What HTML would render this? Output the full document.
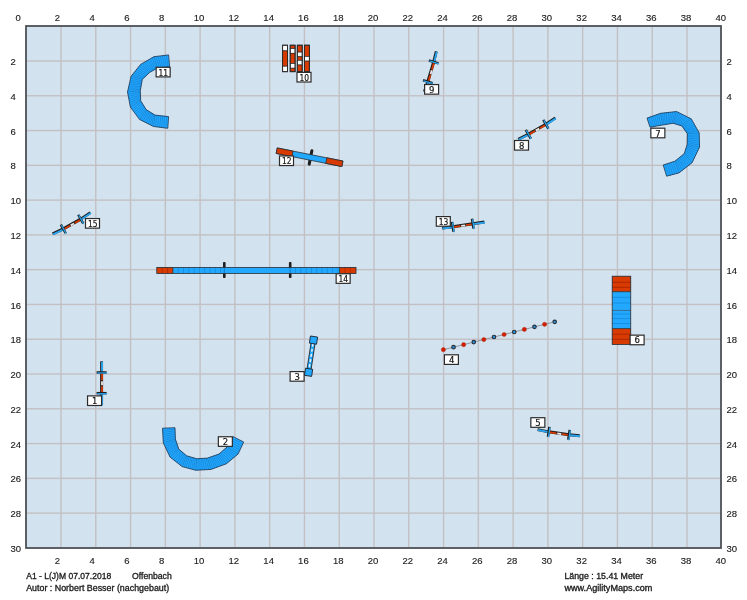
<!DOCTYPE html>
<html><head><meta charset="utf-8"><title>Agility Course A1 - L(J)M</title>
<style>
html,body{margin:0;padding:0;background:#fff;}
body{width:747px;height:600px;overflow:hidden;}
svg{display:block;}
svg text{filter:grayscale(1);}
.ax text{font-family:"Liberation Sans",Arial,sans-serif;font-size:8.4px;fill:#1a1a1a;stroke:#1a1a1a;stroke-width:0.12px;}
text.n{font-family:"DejaVu Sans",Verdana,sans-serif;font-size:8.5px;fill:#111;stroke:#111;stroke-width:0.18px;}
.ft{font-family:"Liberation Sans",Arial,sans-serif;font-size:8.2px;fill:#1a1a1a;stroke:#1a1a1a;stroke-width:0.3px;}
</style></head>
<body>
<svg width="747" height="600" viewBox="0 0 747 600">
<rect width="747" height="600" fill="#ffffff"/>
<rect x="26" y="26" width="695" height="522" fill="#d3e2ef"/>
<rect x="60.3" y="27" width="1.4" height="520" fill="#c2c0c3"/>
<rect x="95.08" y="27" width="1.4" height="520" fill="#c2c0c3"/>
<rect x="129.85" y="27" width="1.4" height="520" fill="#c2c0c3"/>
<rect x="164.63" y="27" width="1.4" height="520" fill="#c2c0c3"/>
<rect x="199.41" y="27" width="1.4" height="520" fill="#c2c0c3"/>
<rect x="234.19" y="27" width="1.4" height="520" fill="#c2c0c3"/>
<rect x="268.97" y="27" width="1.4" height="520" fill="#c2c0c3"/>
<rect x="303.74" y="27" width="1.4" height="520" fill="#c2c0c3"/>
<rect x="338.52" y="27" width="1.4" height="520" fill="#c2c0c3"/>
<rect x="373.3" y="27" width="1.4" height="520" fill="#c2c0c3"/>
<rect x="408.08" y="27" width="1.4" height="520" fill="#c2c0c3"/>
<rect x="442.86" y="27" width="1.4" height="520" fill="#c2c0c3"/>
<rect x="477.63" y="27" width="1.4" height="520" fill="#c2c0c3"/>
<rect x="512.41" y="27" width="1.4" height="520" fill="#c2c0c3"/>
<rect x="547.19" y="27" width="1.4" height="520" fill="#c2c0c3"/>
<rect x="581.97" y="27" width="1.4" height="520" fill="#c2c0c3"/>
<rect x="616.75" y="27" width="1.4" height="520" fill="#c2c0c3"/>
<rect x="651.52" y="27" width="1.4" height="520" fill="#c2c0c3"/>
<rect x="686.3" y="27" width="1.4" height="520" fill="#c2c0c3"/>
<rect x="27" y="60.3" width="693" height="1.4" fill="#c2c0c3"/>
<rect x="27" y="95.08" width="693" height="1.4" fill="#c2c0c3"/>
<rect x="27" y="129.85" width="693" height="1.4" fill="#c2c0c3"/>
<rect x="27" y="164.63" width="693" height="1.4" fill="#c2c0c3"/>
<rect x="27" y="199.41" width="693" height="1.4" fill="#c2c0c3"/>
<rect x="27" y="234.19" width="693" height="1.4" fill="#c2c0c3"/>
<rect x="27" y="268.97" width="693" height="1.4" fill="#c2c0c3"/>
<rect x="27" y="303.74" width="693" height="1.4" fill="#c2c0c3"/>
<rect x="27" y="338.52" width="693" height="1.4" fill="#c2c0c3"/>
<rect x="27" y="373.3" width="693" height="1.4" fill="#c2c0c3"/>
<rect x="27" y="408.08" width="693" height="1.4" fill="#c2c0c3"/>
<rect x="27" y="442.86" width="693" height="1.4" fill="#c2c0c3"/>
<rect x="27" y="477.63" width="693" height="1.4" fill="#c2c0c3"/>
<rect x="27" y="512.41" width="693" height="1.4" fill="#c2c0c3"/>
<rect x="26" y="26" width="695" height="522" fill="none" stroke="#4d5156" stroke-width="1.8"/>
<g class="ax">
<text x="15.4" y="20.8" textLength="5.3" lengthAdjust="spacingAndGlyphs">0</text>
<text x="54.7" y="20.8" textLength="5.3" lengthAdjust="spacingAndGlyphs">2</text>
<text x="54.7" y="563.7" textLength="5.3" lengthAdjust="spacingAndGlyphs">2</text>
<text x="89.48" y="20.8" textLength="5.3" lengthAdjust="spacingAndGlyphs">4</text>
<text x="89.48" y="563.7" textLength="5.3" lengthAdjust="spacingAndGlyphs">4</text>
<text x="124.25" y="20.8" textLength="5.3" lengthAdjust="spacingAndGlyphs">6</text>
<text x="124.25" y="563.7" textLength="5.3" lengthAdjust="spacingAndGlyphs">6</text>
<text x="159.03" y="20.8" textLength="5.3" lengthAdjust="spacingAndGlyphs">8</text>
<text x="159.03" y="563.7" textLength="5.3" lengthAdjust="spacingAndGlyphs">8</text>
<text x="193.81" y="20.8" textLength="10.6" lengthAdjust="spacingAndGlyphs">10</text>
<text x="193.81" y="563.7" textLength="10.6" lengthAdjust="spacingAndGlyphs">10</text>
<text x="228.59" y="20.8" textLength="10.6" lengthAdjust="spacingAndGlyphs">12</text>
<text x="228.59" y="563.7" textLength="10.6" lengthAdjust="spacingAndGlyphs">12</text>
<text x="263.37" y="20.8" textLength="10.6" lengthAdjust="spacingAndGlyphs">14</text>
<text x="263.37" y="563.7" textLength="10.6" lengthAdjust="spacingAndGlyphs">14</text>
<text x="298.14" y="20.8" textLength="10.6" lengthAdjust="spacingAndGlyphs">16</text>
<text x="298.14" y="563.7" textLength="10.6" lengthAdjust="spacingAndGlyphs">16</text>
<text x="332.92" y="20.8" textLength="10.6" lengthAdjust="spacingAndGlyphs">18</text>
<text x="332.92" y="563.7" textLength="10.6" lengthAdjust="spacingAndGlyphs">18</text>
<text x="367.7" y="20.8" textLength="10.6" lengthAdjust="spacingAndGlyphs">20</text>
<text x="367.7" y="563.7" textLength="10.6" lengthAdjust="spacingAndGlyphs">20</text>
<text x="402.48" y="20.8" textLength="10.6" lengthAdjust="spacingAndGlyphs">22</text>
<text x="402.48" y="563.7" textLength="10.6" lengthAdjust="spacingAndGlyphs">22</text>
<text x="437.26" y="20.8" textLength="10.6" lengthAdjust="spacingAndGlyphs">24</text>
<text x="437.26" y="563.7" textLength="10.6" lengthAdjust="spacingAndGlyphs">24</text>
<text x="472.03" y="20.8" textLength="10.6" lengthAdjust="spacingAndGlyphs">26</text>
<text x="472.03" y="563.7" textLength="10.6" lengthAdjust="spacingAndGlyphs">26</text>
<text x="506.81" y="20.8" textLength="10.6" lengthAdjust="spacingAndGlyphs">28</text>
<text x="506.81" y="563.7" textLength="10.6" lengthAdjust="spacingAndGlyphs">28</text>
<text x="541.59" y="20.8" textLength="10.6" lengthAdjust="spacingAndGlyphs">30</text>
<text x="541.59" y="563.7" textLength="10.6" lengthAdjust="spacingAndGlyphs">30</text>
<text x="576.37" y="20.8" textLength="10.6" lengthAdjust="spacingAndGlyphs">32</text>
<text x="576.37" y="563.7" textLength="10.6" lengthAdjust="spacingAndGlyphs">32</text>
<text x="611.15" y="20.8" textLength="10.6" lengthAdjust="spacingAndGlyphs">34</text>
<text x="611.15" y="563.7" textLength="10.6" lengthAdjust="spacingAndGlyphs">34</text>
<text x="645.92" y="20.8" textLength="10.6" lengthAdjust="spacingAndGlyphs">36</text>
<text x="645.92" y="563.7" textLength="10.6" lengthAdjust="spacingAndGlyphs">36</text>
<text x="680.7" y="20.8" textLength="10.6" lengthAdjust="spacingAndGlyphs">38</text>
<text x="680.7" y="563.7" textLength="10.6" lengthAdjust="spacingAndGlyphs">38</text>
<text x="715.48" y="20.8" textLength="10.6" lengthAdjust="spacingAndGlyphs">40</text>
<text x="715.48" y="563.7" textLength="10.6" lengthAdjust="spacingAndGlyphs">40</text>
<text x="10.5" y="65.1" textLength="5.3" lengthAdjust="spacingAndGlyphs">2</text>
<text x="726.4" y="65.1" textLength="5.3" lengthAdjust="spacingAndGlyphs">2</text>
<text x="10.5" y="99.88" textLength="5.3" lengthAdjust="spacingAndGlyphs">4</text>
<text x="726.4" y="99.88" textLength="5.3" lengthAdjust="spacingAndGlyphs">4</text>
<text x="10.5" y="134.65" textLength="5.3" lengthAdjust="spacingAndGlyphs">6</text>
<text x="726.4" y="134.65" textLength="5.3" lengthAdjust="spacingAndGlyphs">6</text>
<text x="10.5" y="169.43" textLength="5.3" lengthAdjust="spacingAndGlyphs">8</text>
<text x="726.4" y="169.43" textLength="5.3" lengthAdjust="spacingAndGlyphs">8</text>
<text x="10.5" y="204.21" textLength="10.6" lengthAdjust="spacingAndGlyphs">10</text>
<text x="726.4" y="204.21" textLength="10.6" lengthAdjust="spacingAndGlyphs">10</text>
<text x="10.5" y="238.99" textLength="10.6" lengthAdjust="spacingAndGlyphs">12</text>
<text x="726.4" y="238.99" textLength="10.6" lengthAdjust="spacingAndGlyphs">12</text>
<text x="10.5" y="273.77" textLength="10.6" lengthAdjust="spacingAndGlyphs">14</text>
<text x="726.4" y="273.77" textLength="10.6" lengthAdjust="spacingAndGlyphs">14</text>
<text x="10.5" y="308.54" textLength="10.6" lengthAdjust="spacingAndGlyphs">16</text>
<text x="726.4" y="308.54" textLength="10.6" lengthAdjust="spacingAndGlyphs">16</text>
<text x="10.5" y="343.32" textLength="10.6" lengthAdjust="spacingAndGlyphs">18</text>
<text x="726.4" y="343.32" textLength="10.6" lengthAdjust="spacingAndGlyphs">18</text>
<text x="10.5" y="378.1" textLength="10.6" lengthAdjust="spacingAndGlyphs">20</text>
<text x="726.4" y="378.1" textLength="10.6" lengthAdjust="spacingAndGlyphs">20</text>
<text x="10.5" y="412.88" textLength="10.6" lengthAdjust="spacingAndGlyphs">22</text>
<text x="726.4" y="412.88" textLength="10.6" lengthAdjust="spacingAndGlyphs">22</text>
<text x="10.5" y="447.66" textLength="10.6" lengthAdjust="spacingAndGlyphs">24</text>
<text x="726.4" y="447.66" textLength="10.6" lengthAdjust="spacingAndGlyphs">24</text>
<text x="10.5" y="482.43" textLength="10.6" lengthAdjust="spacingAndGlyphs">26</text>
<text x="726.4" y="482.43" textLength="10.6" lengthAdjust="spacingAndGlyphs">26</text>
<text x="10.5" y="517.21" textLength="10.6" lengthAdjust="spacingAndGlyphs">28</text>
<text x="726.4" y="517.21" textLength="10.6" lengthAdjust="spacingAndGlyphs">28</text>
<text x="10.5" y="551.99" textLength="10.6" lengthAdjust="spacingAndGlyphs">30</text>
<text x="726.4" y="551.99" textLength="10.6" lengthAdjust="spacingAndGlyphs">30</text>
</g>
<polygon points="168.6,54.9 153.9,56.7 140.6,64.4 131.1,76.3 127.5,92 130.4,107.1 139.6,119.5 153.5,126.5 167.8,128.3 168.6,116.6 155,115.1 146.2,109.6 140.7,100.8 140.3,90.8 142.3,79.4 149.7,72.4 157.7,67.9 169.6,66.8" fill="#22a8ff"/>
<line x1="166.5" y1="55.16" x2="167.9" y2="66.96" stroke="#1682d4" stroke-width="0.7"/>
<line x1="164.4" y1="55.41" x2="166.2" y2="67.11" stroke="#1682d4" stroke-width="0.7"/>
<line x1="162.3" y1="55.67" x2="164.5" y2="67.27" stroke="#1682d4" stroke-width="0.7"/>
<line x1="160.2" y1="55.93" x2="162.8" y2="67.43" stroke="#1682d4" stroke-width="0.7"/>
<line x1="158.1" y1="56.19" x2="161.1" y2="67.59" stroke="#1682d4" stroke-width="0.7"/>
<line x1="156" y1="56.44" x2="159.4" y2="67.74" stroke="#1682d4" stroke-width="0.7"/>
<line x1="152" y1="57.8" x2="156.56" y2="68.54" stroke="#1682d4" stroke-width="0.7"/>
<line x1="150.1" y1="58.9" x2="155.41" y2="69.19" stroke="#1682d4" stroke-width="0.7"/>
<line x1="148.2" y1="60" x2="154.27" y2="69.83" stroke="#1682d4" stroke-width="0.7"/>
<line x1="146.3" y1="61.1" x2="153.13" y2="70.47" stroke="#1682d4" stroke-width="0.7"/>
<line x1="144.4" y1="62.2" x2="151.99" y2="71.11" stroke="#1682d4" stroke-width="0.7"/>
<line x1="142.5" y1="63.3" x2="150.84" y2="71.76" stroke="#1682d4" stroke-width="0.7"/>
<line x1="139.24" y1="66.1" x2="148.64" y2="73.4" stroke="#1682d4" stroke-width="0.7"/>
<line x1="137.89" y1="67.8" x2="147.59" y2="74.4" stroke="#1682d4" stroke-width="0.7"/>
<line x1="136.53" y1="69.5" x2="146.53" y2="75.4" stroke="#1682d4" stroke-width="0.7"/>
<line x1="135.17" y1="71.2" x2="145.47" y2="76.4" stroke="#1682d4" stroke-width="0.7"/>
<line x1="133.81" y1="72.9" x2="144.41" y2="77.4" stroke="#1682d4" stroke-width="0.7"/>
<line x1="132.46" y1="74.6" x2="143.36" y2="78.4" stroke="#1682d4" stroke-width="0.7"/>
<line x1="130.65" y1="78.26" x2="142.05" y2="80.83" stroke="#1682d4" stroke-width="0.7"/>
<line x1="130.2" y1="80.22" x2="141.8" y2="82.25" stroke="#1682d4" stroke-width="0.7"/>
<line x1="129.75" y1="82.19" x2="141.55" y2="83.67" stroke="#1682d4" stroke-width="0.7"/>
<line x1="129.3" y1="84.15" x2="141.3" y2="85.1" stroke="#1682d4" stroke-width="0.7"/>
<line x1="128.85" y1="86.11" x2="141.05" y2="86.53" stroke="#1682d4" stroke-width="0.7"/>
<line x1="128.4" y1="88.08" x2="140.8" y2="87.95" stroke="#1682d4" stroke-width="0.7"/>
<line x1="127.95" y1="90.04" x2="140.55" y2="89.38" stroke="#1682d4" stroke-width="0.7"/>
<line x1="127.91" y1="94.16" x2="140.36" y2="92.23" stroke="#1682d4" stroke-width="0.7"/>
<line x1="128.33" y1="96.31" x2="140.41" y2="93.66" stroke="#1682d4" stroke-width="0.7"/>
<line x1="128.74" y1="98.47" x2="140.47" y2="95.09" stroke="#1682d4" stroke-width="0.7"/>
<line x1="129.16" y1="100.63" x2="140.53" y2="96.51" stroke="#1682d4" stroke-width="0.7"/>
<line x1="129.57" y1="102.79" x2="140.59" y2="97.94" stroke="#1682d4" stroke-width="0.7"/>
<line x1="129.99" y1="104.94" x2="140.64" y2="99.37" stroke="#1682d4" stroke-width="0.7"/>
<line x1="131.71" y1="108.87" x2="141.49" y2="102.06" stroke="#1682d4" stroke-width="0.7"/>
<line x1="133.03" y1="110.64" x2="142.27" y2="103.31" stroke="#1682d4" stroke-width="0.7"/>
<line x1="134.34" y1="112.41" x2="143.06" y2="104.57" stroke="#1682d4" stroke-width="0.7"/>
<line x1="135.66" y1="114.19" x2="143.84" y2="105.83" stroke="#1682d4" stroke-width="0.7"/>
<line x1="136.97" y1="115.96" x2="144.63" y2="107.09" stroke="#1682d4" stroke-width="0.7"/>
<line x1="138.29" y1="117.73" x2="145.41" y2="108.34" stroke="#1682d4" stroke-width="0.7"/>
<line x1="141.34" y1="120.38" x2="147.3" y2="110.29" stroke="#1682d4" stroke-width="0.7"/>
<line x1="143.07" y1="121.25" x2="148.4" y2="110.97" stroke="#1682d4" stroke-width="0.7"/>
<line x1="144.81" y1="122.12" x2="149.5" y2="111.66" stroke="#1682d4" stroke-width="0.7"/>
<line x1="146.55" y1="123" x2="150.6" y2="112.35" stroke="#1682d4" stroke-width="0.7"/>
<line x1="148.29" y1="123.88" x2="151.7" y2="113.04" stroke="#1682d4" stroke-width="0.7"/>
<line x1="150.03" y1="124.75" x2="152.8" y2="113.72" stroke="#1682d4" stroke-width="0.7"/>
<line x1="151.76" y1="125.62" x2="153.9" y2="114.41" stroke="#1682d4" stroke-width="0.7"/>
<line x1="155.54" y1="126.76" x2="156.94" y2="115.31" stroke="#1682d4" stroke-width="0.7"/>
<line x1="157.59" y1="127.01" x2="158.89" y2="115.53" stroke="#1682d4" stroke-width="0.7"/>
<line x1="159.63" y1="127.27" x2="160.83" y2="115.74" stroke="#1682d4" stroke-width="0.7"/>
<line x1="161.67" y1="127.53" x2="162.77" y2="115.96" stroke="#1682d4" stroke-width="0.7"/>
<line x1="163.71" y1="127.79" x2="164.71" y2="116.17" stroke="#1682d4" stroke-width="0.7"/>
<line x1="165.76" y1="128.04" x2="166.66" y2="116.39" stroke="#1682d4" stroke-width="0.7"/>
<line x1="153.9" y1="56.7" x2="157.7" y2="67.9" stroke="#1878c0" stroke-width="0.7"/>
<line x1="140.6" y1="64.4" x2="149.7" y2="72.4" stroke="#1878c0" stroke-width="0.7"/>
<line x1="131.1" y1="76.3" x2="142.3" y2="79.4" stroke="#1878c0" stroke-width="0.7"/>
<line x1="127.5" y1="92" x2="140.3" y2="90.8" stroke="#1878c0" stroke-width="0.7"/>
<line x1="130.4" y1="107.1" x2="140.7" y2="100.8" stroke="#1878c0" stroke-width="0.7"/>
<line x1="139.6" y1="119.5" x2="146.2" y2="109.6" stroke="#1878c0" stroke-width="0.7"/>
<line x1="153.5" y1="126.5" x2="155" y2="115.1" stroke="#1878c0" stroke-width="0.7"/>
<polygon points="168.6,54.9 153.9,56.7 140.6,64.4 131.1,76.3 127.5,92 130.4,107.1 139.6,119.5 153.5,126.5 167.8,128.3 168.6,116.6 155,115.1 146.2,109.6 140.7,100.8 140.3,90.8 142.3,79.4 149.7,72.4 157.7,67.9 169.6,66.8" fill="none" stroke="#1c3550" stroke-width="0.8" stroke-linejoin="round"/>
<polygon points="647,118.1 660.5,113.3 676.6,111.5 691.3,118.9 699.2,132.9 699.6,147 692.1,162.7 679,172.9 666.6,176.2 663.2,165 674.9,161.2 684.2,153.7 687.2,144.4 687.4,133.7 681.8,125.9 673.1,123.3 662.6,125 650,127.2" fill="#22a8ff"/>
<line x1="648.93" y1="117.41" x2="651.8" y2="126.89" stroke="#1682d4" stroke-width="0.7"/>
<line x1="650.86" y1="116.73" x2="653.6" y2="126.57" stroke="#1682d4" stroke-width="0.7"/>
<line x1="652.79" y1="116.04" x2="655.4" y2="126.26" stroke="#1682d4" stroke-width="0.7"/>
<line x1="654.71" y1="115.36" x2="657.2" y2="125.94" stroke="#1682d4" stroke-width="0.7"/>
<line x1="656.64" y1="114.67" x2="659" y2="125.63" stroke="#1682d4" stroke-width="0.7"/>
<line x1="658.57" y1="113.99" x2="660.8" y2="125.31" stroke="#1682d4" stroke-width="0.7"/>
<line x1="662.51" y1="113.08" x2="663.91" y2="124.79" stroke="#1682d4" stroke-width="0.7"/>
<line x1="664.52" y1="112.85" x2="665.23" y2="124.58" stroke="#1682d4" stroke-width="0.7"/>
<line x1="666.54" y1="112.62" x2="666.54" y2="124.36" stroke="#1682d4" stroke-width="0.7"/>
<line x1="668.55" y1="112.4" x2="667.85" y2="124.15" stroke="#1682d4" stroke-width="0.7"/>
<line x1="670.56" y1="112.17" x2="669.16" y2="123.94" stroke="#1682d4" stroke-width="0.7"/>
<line x1="672.58" y1="111.95" x2="670.48" y2="123.72" stroke="#1682d4" stroke-width="0.7"/>
<line x1="674.59" y1="111.72" x2="671.79" y2="123.51" stroke="#1682d4" stroke-width="0.7"/>
<line x1="678.44" y1="112.42" x2="674.19" y2="123.62" stroke="#1682d4" stroke-width="0.7"/>
<line x1="680.27" y1="113.35" x2="675.27" y2="123.95" stroke="#1682d4" stroke-width="0.7"/>
<line x1="682.11" y1="114.28" x2="676.36" y2="124.28" stroke="#1682d4" stroke-width="0.7"/>
<line x1="683.95" y1="115.2" x2="677.45" y2="124.6" stroke="#1682d4" stroke-width="0.7"/>
<line x1="685.79" y1="116.12" x2="678.54" y2="124.92" stroke="#1682d4" stroke-width="0.7"/>
<line x1="687.62" y1="117.05" x2="679.62" y2="125.25" stroke="#1682d4" stroke-width="0.7"/>
<line x1="689.46" y1="117.98" x2="680.71" y2="125.58" stroke="#1682d4" stroke-width="0.7"/>
<line x1="692.29" y1="120.65" x2="682.5" y2="126.88" stroke="#1682d4" stroke-width="0.7"/>
<line x1="693.27" y1="122.4" x2="683.2" y2="127.85" stroke="#1682d4" stroke-width="0.7"/>
<line x1="694.26" y1="124.15" x2="683.9" y2="128.82" stroke="#1682d4" stroke-width="0.7"/>
<line x1="695.25" y1="125.9" x2="684.6" y2="129.8" stroke="#1682d4" stroke-width="0.7"/>
<line x1="696.24" y1="127.65" x2="685.3" y2="130.78" stroke="#1682d4" stroke-width="0.7"/>
<line x1="697.23" y1="129.4" x2="686" y2="131.75" stroke="#1682d4" stroke-width="0.7"/>
<line x1="698.21" y1="131.15" x2="686.7" y2="132.72" stroke="#1682d4" stroke-width="0.7"/>
<line x1="699.26" y1="134.91" x2="687.37" y2="135.23" stroke="#1682d4" stroke-width="0.7"/>
<line x1="699.31" y1="136.93" x2="687.34" y2="136.76" stroke="#1682d4" stroke-width="0.7"/>
<line x1="699.37" y1="138.94" x2="687.31" y2="138.29" stroke="#1682d4" stroke-width="0.7"/>
<line x1="699.43" y1="140.96" x2="687.29" y2="139.81" stroke="#1682d4" stroke-width="0.7"/>
<line x1="699.49" y1="142.97" x2="687.26" y2="141.34" stroke="#1682d4" stroke-width="0.7"/>
<line x1="699.54" y1="144.99" x2="687.23" y2="142.87" stroke="#1682d4" stroke-width="0.7"/>
<line x1="698.66" y1="148.96" x2="686.83" y2="145.56" stroke="#1682d4" stroke-width="0.7"/>
<line x1="697.73" y1="150.93" x2="686.45" y2="146.72" stroke="#1682d4" stroke-width="0.7"/>
<line x1="696.79" y1="152.89" x2="686.08" y2="147.89" stroke="#1682d4" stroke-width="0.7"/>
<line x1="695.85" y1="154.85" x2="685.7" y2="149.05" stroke="#1682d4" stroke-width="0.7"/>
<line x1="694.91" y1="156.81" x2="685.33" y2="150.21" stroke="#1682d4" stroke-width="0.7"/>
<line x1="693.98" y1="158.77" x2="684.95" y2="151.38" stroke="#1682d4" stroke-width="0.7"/>
<line x1="693.04" y1="160.74" x2="684.58" y2="152.54" stroke="#1682d4" stroke-width="0.7"/>
<line x1="690.46" y1="163.97" x2="683.04" y2="154.64" stroke="#1682d4" stroke-width="0.7"/>
<line x1="688.83" y1="165.25" x2="681.88" y2="155.57" stroke="#1682d4" stroke-width="0.7"/>
<line x1="687.19" y1="166.53" x2="680.71" y2="156.51" stroke="#1682d4" stroke-width="0.7"/>
<line x1="685.55" y1="167.8" x2="679.55" y2="157.45" stroke="#1682d4" stroke-width="0.7"/>
<line x1="683.91" y1="169.07" x2="678.39" y2="158.39" stroke="#1682d4" stroke-width="0.7"/>
<line x1="682.27" y1="170.35" x2="677.23" y2="159.32" stroke="#1682d4" stroke-width="0.7"/>
<line x1="680.64" y1="171.62" x2="676.06" y2="160.26" stroke="#1682d4" stroke-width="0.7"/>
<line x1="676.93" y1="173.45" x2="672.95" y2="161.83" stroke="#1682d4" stroke-width="0.7"/>
<line x1="674.87" y1="174" x2="671" y2="162.47" stroke="#1682d4" stroke-width="0.7"/>
<line x1="672.8" y1="174.55" x2="669.05" y2="163.1" stroke="#1682d4" stroke-width="0.7"/>
<line x1="670.73" y1="175.1" x2="667.1" y2="163.73" stroke="#1682d4" stroke-width="0.7"/>
<line x1="668.67" y1="175.65" x2="665.15" y2="164.37" stroke="#1682d4" stroke-width="0.7"/>
<line x1="660.5" y1="113.3" x2="662.6" y2="125" stroke="#1878c0" stroke-width="0.7"/>
<line x1="676.6" y1="111.5" x2="673.1" y2="123.3" stroke="#1878c0" stroke-width="0.7"/>
<line x1="691.3" y1="118.9" x2="681.8" y2="125.9" stroke="#1878c0" stroke-width="0.7"/>
<line x1="699.2" y1="132.9" x2="687.4" y2="133.7" stroke="#1878c0" stroke-width="0.7"/>
<line x1="699.6" y1="147" x2="687.2" y2="144.4" stroke="#1878c0" stroke-width="0.7"/>
<line x1="692.1" y1="162.7" x2="684.2" y2="153.7" stroke="#1878c0" stroke-width="0.7"/>
<line x1="679" y1="172.9" x2="674.9" y2="161.2" stroke="#1878c0" stroke-width="0.7"/>
<polygon points="647,118.1 660.5,113.3 676.6,111.5 691.3,118.9 699.2,132.9 699.6,147 692.1,162.7 679,172.9 666.6,176.2 663.2,165 674.9,161.2 684.2,153.7 687.2,144.4 687.4,133.7 681.8,125.9 673.1,123.3 662.6,125 650,127.2" fill="none" stroke="#1c3550" stroke-width="0.8" stroke-linejoin="round"/>
<polygon points="162.5,428.2 163.3,442.8 170,457 182.1,466.6 195.8,470.3 211.1,469.4 226.5,463.7 238.1,454 243.7,442 233.2,436.7 227.2,446.9 219,454 207.4,458.1 196.7,458.7 186.7,455.8 178.8,449.1 175.4,439.1 175,427.7" fill="#22a8ff"/>
<line x1="162.61" y1="430.29" x2="175.06" y2="429.33" stroke="#1682d4" stroke-width="0.7"/>
<line x1="162.73" y1="432.37" x2="175.11" y2="430.96" stroke="#1682d4" stroke-width="0.7"/>
<line x1="162.84" y1="434.46" x2="175.17" y2="432.59" stroke="#1682d4" stroke-width="0.7"/>
<line x1="162.96" y1="436.54" x2="175.23" y2="434.21" stroke="#1682d4" stroke-width="0.7"/>
<line x1="163.07" y1="438.63" x2="175.29" y2="435.84" stroke="#1682d4" stroke-width="0.7"/>
<line x1="163.19" y1="440.71" x2="175.34" y2="437.47" stroke="#1682d4" stroke-width="0.7"/>
<line x1="164.14" y1="444.57" x2="175.83" y2="440.35" stroke="#1682d4" stroke-width="0.7"/>
<line x1="164.98" y1="446.35" x2="176.25" y2="441.6" stroke="#1682d4" stroke-width="0.7"/>
<line x1="165.81" y1="448.12" x2="176.68" y2="442.85" stroke="#1682d4" stroke-width="0.7"/>
<line x1="166.65" y1="449.9" x2="177.1" y2="444.1" stroke="#1682d4" stroke-width="0.7"/>
<line x1="167.49" y1="451.68" x2="177.53" y2="445.35" stroke="#1682d4" stroke-width="0.7"/>
<line x1="168.32" y1="453.45" x2="177.95" y2="446.6" stroke="#1682d4" stroke-width="0.7"/>
<line x1="169.16" y1="455.23" x2="178.38" y2="447.85" stroke="#1682d4" stroke-width="0.7"/>
<line x1="171.73" y1="458.37" x2="179.93" y2="450.06" stroke="#1682d4" stroke-width="0.7"/>
<line x1="173.46" y1="459.74" x2="181.06" y2="451.01" stroke="#1682d4" stroke-width="0.7"/>
<line x1="175.19" y1="461.11" x2="182.19" y2="451.97" stroke="#1682d4" stroke-width="0.7"/>
<line x1="176.91" y1="462.49" x2="183.31" y2="452.93" stroke="#1682d4" stroke-width="0.7"/>
<line x1="178.64" y1="463.86" x2="184.44" y2="453.89" stroke="#1682d4" stroke-width="0.7"/>
<line x1="180.37" y1="465.23" x2="185.57" y2="454.84" stroke="#1682d4" stroke-width="0.7"/>
<line x1="184.06" y1="467.13" x2="188.13" y2="456.21" stroke="#1682d4" stroke-width="0.7"/>
<line x1="186.01" y1="467.66" x2="189.56" y2="456.63" stroke="#1682d4" stroke-width="0.7"/>
<line x1="187.97" y1="468.19" x2="190.99" y2="457.04" stroke="#1682d4" stroke-width="0.7"/>
<line x1="189.93" y1="468.71" x2="192.41" y2="457.46" stroke="#1682d4" stroke-width="0.7"/>
<line x1="191.89" y1="469.24" x2="193.84" y2="457.87" stroke="#1682d4" stroke-width="0.7"/>
<line x1="193.84" y1="469.77" x2="195.27" y2="458.29" stroke="#1682d4" stroke-width="0.7"/>
<line x1="197.99" y1="470.17" x2="198.23" y2="458.61" stroke="#1682d4" stroke-width="0.7"/>
<line x1="200.17" y1="470.04" x2="199.76" y2="458.53" stroke="#1682d4" stroke-width="0.7"/>
<line x1="202.36" y1="469.91" x2="201.29" y2="458.44" stroke="#1682d4" stroke-width="0.7"/>
<line x1="204.54" y1="469.79" x2="202.81" y2="458.36" stroke="#1682d4" stroke-width="0.7"/>
<line x1="206.73" y1="469.66" x2="204.34" y2="458.27" stroke="#1682d4" stroke-width="0.7"/>
<line x1="208.91" y1="469.53" x2="205.87" y2="458.19" stroke="#1682d4" stroke-width="0.7"/>
<line x1="213.03" y1="468.69" x2="208.85" y2="457.59" stroke="#1682d4" stroke-width="0.7"/>
<line x1="214.95" y1="467.97" x2="210.3" y2="457.08" stroke="#1682d4" stroke-width="0.7"/>
<line x1="216.88" y1="467.26" x2="211.75" y2="456.56" stroke="#1682d4" stroke-width="0.7"/>
<line x1="218.8" y1="466.55" x2="213.2" y2="456.05" stroke="#1682d4" stroke-width="0.7"/>
<line x1="220.72" y1="465.84" x2="214.65" y2="455.54" stroke="#1682d4" stroke-width="0.7"/>
<line x1="222.65" y1="465.12" x2="216.1" y2="455.02" stroke="#1682d4" stroke-width="0.7"/>
<line x1="224.57" y1="464.41" x2="217.55" y2="454.51" stroke="#1682d4" stroke-width="0.7"/>
<line x1="228.16" y1="462.31" x2="220.17" y2="452.99" stroke="#1682d4" stroke-width="0.7"/>
<line x1="229.81" y1="460.93" x2="221.34" y2="451.97" stroke="#1682d4" stroke-width="0.7"/>
<line x1="231.47" y1="459.54" x2="222.51" y2="450.96" stroke="#1682d4" stroke-width="0.7"/>
<line x1="233.13" y1="458.16" x2="223.69" y2="449.94" stroke="#1682d4" stroke-width="0.7"/>
<line x1="234.79" y1="456.77" x2="224.86" y2="448.93" stroke="#1682d4" stroke-width="0.7"/>
<line x1="236.44" y1="455.39" x2="226.03" y2="447.91" stroke="#1682d4" stroke-width="0.7"/>
<line x1="239.03" y1="452" x2="228.2" y2="445.2" stroke="#1682d4" stroke-width="0.7"/>
<line x1="239.97" y1="450" x2="229.2" y2="443.5" stroke="#1682d4" stroke-width="0.7"/>
<line x1="240.9" y1="448" x2="230.2" y2="441.8" stroke="#1682d4" stroke-width="0.7"/>
<line x1="241.83" y1="446" x2="231.2" y2="440.1" stroke="#1682d4" stroke-width="0.7"/>
<line x1="242.77" y1="444" x2="232.2" y2="438.4" stroke="#1682d4" stroke-width="0.7"/>
<line x1="163.3" y1="442.8" x2="175.4" y2="439.1" stroke="#1878c0" stroke-width="0.7"/>
<line x1="170" y1="457" x2="178.8" y2="449.1" stroke="#1878c0" stroke-width="0.7"/>
<line x1="182.1" y1="466.6" x2="186.7" y2="455.8" stroke="#1878c0" stroke-width="0.7"/>
<line x1="195.8" y1="470.3" x2="196.7" y2="458.7" stroke="#1878c0" stroke-width="0.7"/>
<line x1="211.1" y1="469.4" x2="207.4" y2="458.1" stroke="#1878c0" stroke-width="0.7"/>
<line x1="226.5" y1="463.7" x2="219" y2="454" stroke="#1878c0" stroke-width="0.7"/>
<line x1="238.1" y1="454" x2="227.2" y2="446.9" stroke="#1878c0" stroke-width="0.7"/>
<polygon points="162.5,428.2 163.3,442.8 170,457 182.1,466.6 195.8,470.3 211.1,469.4 226.5,463.7 238.1,454 243.7,442 233.2,436.7 227.2,446.9 219,454 207.4,458.1 196.7,458.7 186.7,455.8 178.8,449.1 175.4,439.1 175,427.7" fill="none" stroke="#1c3550" stroke-width="0.8" stroke-linejoin="round"/>
<rect x="223" y="262" width="2.6" height="16" rx="0.8" fill="#1e1e1e"/>
<rect x="288.9" y="262" width="2.6" height="16" rx="0.8" fill="#1e1e1e"/>
<rect x="156.8" y="267.4" width="199.2" height="6" fill="#22a9ff"/>
<rect x="156.8" y="267.4" width="16.1" height="6" fill="#d83a00"/>
<rect x="339.6" y="267.4" width="16.4" height="6" fill="#d83a00"/>
<line x1="162.17" y1="267.4" x2="162.17" y2="273.4" stroke="#b02a00" stroke-width="0.8"/>
<line x1="167.54" y1="267.4" x2="167.54" y2="273.4" stroke="#b02a00" stroke-width="0.8"/>
<line x1="178.2" y1="267.4" x2="178.2" y2="273.4" stroke="#1a8ad8" stroke-width="0.8"/>
<line x1="183.5" y1="267.4" x2="183.5" y2="273.4" stroke="#1a8ad8" stroke-width="0.8"/>
<line x1="188.8" y1="267.4" x2="188.8" y2="273.4" stroke="#1a8ad8" stroke-width="0.8"/>
<line x1="194.1" y1="267.4" x2="194.1" y2="273.4" stroke="#1a8ad8" stroke-width="0.8"/>
<line x1="199.4" y1="267.4" x2="199.4" y2="273.4" stroke="#1a8ad8" stroke-width="0.8"/>
<line x1="204.7" y1="267.4" x2="204.7" y2="273.4" stroke="#1a8ad8" stroke-width="0.8"/>
<line x1="210" y1="267.4" x2="210" y2="273.4" stroke="#1a8ad8" stroke-width="0.8"/>
<line x1="215.3" y1="267.4" x2="215.3" y2="273.4" stroke="#1a8ad8" stroke-width="0.8"/>
<line x1="220.6" y1="267.4" x2="220.6" y2="273.4" stroke="#1a8ad8" stroke-width="0.8"/>
<line x1="295.5" y1="267.4" x2="295.5" y2="273.4" stroke="#1a8ad8" stroke-width="0.8"/>
<line x1="300.8" y1="267.4" x2="300.8" y2="273.4" stroke="#1a8ad8" stroke-width="0.8"/>
<line x1="306.1" y1="267.4" x2="306.1" y2="273.4" stroke="#1a8ad8" stroke-width="0.8"/>
<line x1="311.4" y1="267.4" x2="311.4" y2="273.4" stroke="#1a8ad8" stroke-width="0.8"/>
<line x1="316.7" y1="267.4" x2="316.7" y2="273.4" stroke="#1a8ad8" stroke-width="0.8"/>
<line x1="322" y1="267.4" x2="322" y2="273.4" stroke="#1a8ad8" stroke-width="0.8"/>
<line x1="327.3" y1="267.4" x2="327.3" y2="273.4" stroke="#1a8ad8" stroke-width="0.8"/>
<line x1="332.6" y1="267.4" x2="332.6" y2="273.4" stroke="#1a8ad8" stroke-width="0.8"/>
<line x1="337.9" y1="267.4" x2="337.9" y2="273.4" stroke="#1a8ad8" stroke-width="0.8"/>
<line x1="344.97" y1="267.4" x2="344.97" y2="273.4" stroke="#b02a00" stroke-width="0.8"/>
<line x1="350.34" y1="267.4" x2="350.34" y2="273.4" stroke="#b02a00" stroke-width="0.8"/>
<line x1="172.9" y1="267.4" x2="172.9" y2="273.4" stroke="#333" stroke-width="0.8"/>
<line x1="224.3" y1="267.4" x2="224.3" y2="273.4" stroke="#1a78c0" stroke-width="1"/>
<line x1="290.2" y1="267.4" x2="290.2" y2="273.4" stroke="#1a78c0" stroke-width="1"/>
<line x1="339.6" y1="267.4" x2="339.6" y2="273.4" stroke="#333" stroke-width="0.8"/>
<rect x="156.8" y="267.4" width="199.2" height="6" fill="none" stroke="#2a2f35" stroke-width="0.8"/>
<rect x="612.2" y="276.2" width="18.55" height="68.2" fill="#22a9ff"/>
<rect x="612.2" y="276.2" width="18.55" height="15.5" fill="#d83a00"/>
<rect x="612.2" y="328.6" width="18.55" height="15.8" fill="#d83a00"/>
<line x1="612.2" y1="282.4" x2="630.75" y2="282.4" stroke="#a82800" stroke-width="0.9"/>
<line x1="612.2" y1="287.3" x2="630.75" y2="287.3" stroke="#a82800" stroke-width="0.9"/>
<line x1="612.2" y1="334.2" x2="630.75" y2="334.2" stroke="#a82800" stroke-width="0.9"/>
<line x1="612.2" y1="339.3" x2="630.75" y2="339.3" stroke="#a82800" stroke-width="0.9"/>
<line x1="612.2" y1="297.3" x2="630.75" y2="297.3" stroke="#1a8ad8" stroke-width="0.9"/>
<line x1="612.2" y1="303.0" x2="630.75" y2="303.0" stroke="#1a8ad8" stroke-width="0.9"/>
<line x1="612.2" y1="314.0" x2="630.75" y2="314.0" stroke="#1a8ad8" stroke-width="0.9"/>
<line x1="612.2" y1="318.6" x2="630.75" y2="318.6" stroke="#1a8ad8" stroke-width="0.9"/>
<line x1="612.2" y1="323.5" x2="630.75" y2="323.5" stroke="#1a8ad8" stroke-width="0.9"/>
<line x1="612.2" y1="310.4" x2="630.75" y2="310.4" stroke="#3d6d90" stroke-width="1"/>
<line x1="612.2" y1="291.7" x2="630.75" y2="291.7" stroke="#333" stroke-width="0.8"/>
<line x1="612.2" y1="328.6" x2="630.75" y2="328.6" stroke="#333" stroke-width="0.8"/>
<rect x="612.2" y="276.2" width="18.55" height="68.2" fill="none" stroke="#2a2f35" stroke-width="0.8"/>
<line x1="311.88" y1="150.78" x2="309.22" y2="164.12" stroke="#1e1e1e" stroke-width="3" stroke-linecap="round"/>
<polygon points="276.15,153.45 341.85,166.55 342.95,161.05 277.25,147.95" fill="#22a9ff" stroke="#2a2f35" stroke-width="0.8"/>
<polygon points="276.15,153.45 291.92,156.59 293.02,151.1 277.25,147.95" fill="#d83a00" stroke="#2a2f35" stroke-width="0.8"/>
<polygon points="325.76,163.34 341.85,166.55 342.95,161.05 326.85,157.84" fill="#d83a00" stroke="#2a2f35" stroke-width="0.8"/>
<rect x="282.6" y="45.2" width="4.9" height="5.7" fill="#ffffff" stroke="#2a2a2a" stroke-width="0.7"/>
<rect x="282.6" y="50.9" width="4.9" height="15.3" fill="#d83a00" stroke="#2a2a2a" stroke-width="0.7"/>
<rect x="282.6" y="66.2" width="4.9" height="5.5" fill="#ffffff" stroke="#2a2a2a" stroke-width="0.7"/>
<rect x="282.6" y="45.2" width="4.9" height="26.5" fill="none" stroke="#2a2a2a" stroke-width="1"/>
<rect x="290.2" y="45.2" width="4.9" height="3.4" fill="#d83a00" stroke="#2a2a2a" stroke-width="0.7"/>
<rect x="290.2" y="48.6" width="4.9" height="4.7" fill="#ffffff" stroke="#2a2a2a" stroke-width="0.7"/>
<rect x="290.2" y="53.3" width="4.9" height="10.2" fill="#d83a00" stroke="#2a2a2a" stroke-width="0.7"/>
<rect x="290.2" y="63.5" width="4.9" height="4.7" fill="#ffffff" stroke="#2a2a2a" stroke-width="0.7"/>
<rect x="290.2" y="68.2" width="4.9" height="3.5" fill="#d83a00" stroke="#2a2a2a" stroke-width="0.7"/>
<rect x="290.2" y="45.2" width="4.9" height="26.5" fill="none" stroke="#2a2a2a" stroke-width="1"/>
<rect x="297.3" y="45.2" width="4.9" height="6.9" fill="#d83a00" stroke="#2a2a2a" stroke-width="0.7"/>
<rect x="297.3" y="52.1" width="4.9" height="4.7" fill="#ffffff" stroke="#2a2a2a" stroke-width="0.7"/>
<rect x="297.3" y="56.8" width="4.9" height="3.5" fill="#d83a00" stroke="#2a2a2a" stroke-width="0.7"/>
<rect x="297.3" y="60.3" width="4.9" height="4.7" fill="#ffffff" stroke="#2a2a2a" stroke-width="0.7"/>
<rect x="297.3" y="65.0" width="4.9" height="6.7" fill="#d83a00" stroke="#2a2a2a" stroke-width="0.7"/>
<rect x="297.3" y="45.2" width="4.9" height="26.5" fill="none" stroke="#2a2a2a" stroke-width="1"/>
<rect x="304.5" y="45.2" width="4.9" height="11.2" fill="#d83a00" stroke="#2a2a2a" stroke-width="0.7"/>
<rect x="304.5" y="56.4" width="4.9" height="4.7" fill="#ffffff" stroke="#2a2a2a" stroke-width="0.7"/>
<rect x="304.5" y="61.1" width="4.9" height="10.6" fill="#d83a00" stroke="#2a2a2a" stroke-width="0.7"/>
<rect x="304.5" y="45.2" width="4.9" height="26.5" fill="none" stroke="#2a2a2a" stroke-width="1"/>
<line x1="101.6" y1="361.3" x2="101.6" y2="372.5" stroke="#1e1e1e" stroke-width="2.9" stroke-linecap="butt"/>
<line x1="102.05" y1="361.75" x2="102.05" y2="372.95" stroke="#2aa4ee" stroke-width="1.9" stroke-linecap="butt"/>
<line x1="101.6" y1="393.2" x2="101.6" y2="405" stroke="#1e1e1e" stroke-width="2.9" stroke-linecap="butt"/>
<line x1="102.05" y1="393.65" x2="102.05" y2="405.45" stroke="#2aa4ee" stroke-width="1.9" stroke-linecap="butt"/>
<line x1="101.6" y1="372.5" x2="101.6" y2="393.2" stroke="#1e1e1e" stroke-width="3.0" stroke-linecap="butt"/>
<line x1="102" y1="372.9" x2="102" y2="380.35" stroke="#d83a00" stroke-width="1.8" stroke-linecap="butt"/>
<line x1="102" y1="381.18" x2="102" y2="385.32" stroke="#f2e6e2" stroke-width="1.8" stroke-linecap="butt"/>
<line x1="102" y1="386.15" x2="102" y2="393.6" stroke="#d83a00" stroke-width="1.8" stroke-linecap="butt"/>
<line x1="96.6" y1="372.5" x2="106.6" y2="372.5" stroke="#1e1e1e" stroke-width="2.5" stroke-linecap="butt"/>
<line x1="97.1" y1="373" x2="107.1" y2="373" stroke="#2aa4ee" stroke-width="1.3" stroke-linecap="butt"/>
<line x1="96.6" y1="393.2" x2="106.6" y2="393.2" stroke="#1e1e1e" stroke-width="2.5" stroke-linecap="butt"/>
<line x1="97.1" y1="393.7" x2="107.1" y2="393.7" stroke="#2aa4ee" stroke-width="1.3" stroke-linecap="butt"/>
<line x1="537.6" y1="429.6" x2="548.7" y2="431.8" stroke="#1e1e1e" stroke-width="2.9" stroke-linecap="butt"/>
<line x1="538.05" y1="430.05" x2="549.15" y2="432.25" stroke="#2aa4ee" stroke-width="1.9" stroke-linecap="butt"/>
<line x1="569" y1="434.8" x2="579.7" y2="435.8" stroke="#1e1e1e" stroke-width="2.9" stroke-linecap="butt"/>
<line x1="569.45" y1="435.25" x2="580.15" y2="436.25" stroke="#2aa4ee" stroke-width="1.9" stroke-linecap="butt"/>
<line x1="548.7" y1="431.8" x2="569" y2="434.8" stroke="#1e1e1e" stroke-width="3.0" stroke-linecap="butt"/>
<line x1="549.1" y1="432.2" x2="556.41" y2="433.28" stroke="#d83a00" stroke-width="1.8" stroke-linecap="butt"/>
<line x1="557.22" y1="433.4" x2="561.28" y2="434" stroke="#f2e6e2" stroke-width="1.8" stroke-linecap="butt"/>
<line x1="562.09" y1="434.12" x2="569.4" y2="435.2" stroke="#d83a00" stroke-width="1.8" stroke-linecap="butt"/>
<line x1="547.97" y1="436.75" x2="549.43" y2="426.85" stroke="#1e1e1e" stroke-width="2.5" stroke-linecap="butt"/>
<line x1="548.47" y1="437.25" x2="549.93" y2="427.35" stroke="#2aa4ee" stroke-width="1.3" stroke-linecap="butt"/>
<line x1="568.27" y1="439.75" x2="569.73" y2="429.85" stroke="#1e1e1e" stroke-width="2.5" stroke-linecap="butt"/>
<line x1="568.77" y1="440.25" x2="570.23" y2="430.35" stroke="#2aa4ee" stroke-width="1.3" stroke-linecap="butt"/>
<line x1="518.3" y1="139.2" x2="528.3" y2="134.2" stroke="#1e1e1e" stroke-width="2.9" stroke-linecap="butt"/>
<line x1="518.75" y1="139.65" x2="528.75" y2="134.65" stroke="#2aa4ee" stroke-width="1.9" stroke-linecap="butt"/>
<line x1="545.8" y1="124.2" x2="555.4" y2="117.9" stroke="#1e1e1e" stroke-width="2.9" stroke-linecap="butt"/>
<line x1="546.25" y1="124.65" x2="555.85" y2="118.35" stroke="#2aa4ee" stroke-width="1.9" stroke-linecap="butt"/>
<line x1="528.3" y1="134.2" x2="545.8" y2="124.2" stroke="#1e1e1e" stroke-width="3.0" stroke-linecap="butt"/>
<line x1="528.7" y1="134.6" x2="535" y2="131" stroke="#d83a00" stroke-width="1.8" stroke-linecap="butt"/>
<line x1="535.7" y1="130.6" x2="539.2" y2="128.6" stroke="#f2e6e2" stroke-width="1.8" stroke-linecap="butt"/>
<line x1="539.9" y1="128.2" x2="546.2" y2="124.6" stroke="#d83a00" stroke-width="1.8" stroke-linecap="butt"/>
<line x1="530.78" y1="138.54" x2="525.82" y2="129.86" stroke="#1e1e1e" stroke-width="2.5" stroke-linecap="butt"/>
<line x1="531.28" y1="139.04" x2="526.32" y2="130.36" stroke="#2aa4ee" stroke-width="1.3" stroke-linecap="butt"/>
<line x1="548.28" y1="128.54" x2="543.32" y2="119.86" stroke="#1e1e1e" stroke-width="2.5" stroke-linecap="butt"/>
<line x1="548.78" y1="129.04" x2="543.82" y2="120.36" stroke="#2aa4ee" stroke-width="1.3" stroke-linecap="butt"/>
<line x1="436.3" y1="51.4" x2="433.7" y2="61.9" stroke="#1e1e1e" stroke-width="2.9" stroke-linecap="butt"/>
<line x1="436.75" y1="51.85" x2="434.15" y2="62.35" stroke="#2aa4ee" stroke-width="1.9" stroke-linecap="butt"/>
<line x1="427.8" y1="81.7" x2="424.4" y2="91.8" stroke="#1e1e1e" stroke-width="2.9" stroke-linecap="butt"/>
<line x1="428.25" y1="82.15" x2="424.85" y2="92.25" stroke="#2aa4ee" stroke-width="1.9" stroke-linecap="butt"/>
<line x1="433.7" y1="61.9" x2="427.8" y2="81.7" stroke="#1e1e1e" stroke-width="3.0" stroke-linecap="butt"/>
<line x1="434.1" y1="62.3" x2="431.98" y2="69.43" stroke="#d83a00" stroke-width="1.8" stroke-linecap="butt"/>
<line x1="431.74" y1="70.22" x2="430.56" y2="74.18" stroke="#f2e6e2" stroke-width="1.8" stroke-linecap="butt"/>
<line x1="430.32" y1="74.97" x2="428.2" y2="82.1" stroke="#d83a00" stroke-width="1.8" stroke-linecap="butt"/>
<line x1="428.91" y1="60.47" x2="438.49" y2="63.33" stroke="#1e1e1e" stroke-width="2.5" stroke-linecap="butt"/>
<line x1="429.41" y1="60.97" x2="438.99" y2="63.83" stroke="#2aa4ee" stroke-width="1.3" stroke-linecap="butt"/>
<line x1="423.01" y1="80.27" x2="432.59" y2="83.13" stroke="#1e1e1e" stroke-width="2.5" stroke-linecap="butt"/>
<line x1="423.51" y1="80.77" x2="433.09" y2="83.63" stroke="#2aa4ee" stroke-width="1.3" stroke-linecap="butt"/>
<line x1="442.2" y1="228.1" x2="452.8" y2="226.8" stroke="#1e1e1e" stroke-width="2.9" stroke-linecap="butt"/>
<line x1="442.65" y1="228.55" x2="453.25" y2="227.25" stroke="#2aa4ee" stroke-width="1.9" stroke-linecap="butt"/>
<line x1="472.8" y1="223.7" x2="484.4" y2="222" stroke="#1e1e1e" stroke-width="2.9" stroke-linecap="butt"/>
<line x1="473.25" y1="224.15" x2="484.85" y2="222.45" stroke="#2aa4ee" stroke-width="1.9" stroke-linecap="butt"/>
<line x1="452.8" y1="226.8" x2="472.8" y2="223.7" stroke="#1e1e1e" stroke-width="3.0" stroke-linecap="butt"/>
<line x1="453.2" y1="227.2" x2="460.4" y2="226.08" stroke="#d83a00" stroke-width="1.8" stroke-linecap="butt"/>
<line x1="461.2" y1="225.96" x2="465.2" y2="225.34" stroke="#f2e6e2" stroke-width="1.8" stroke-linecap="butt"/>
<line x1="466" y1="225.22" x2="473.2" y2="224.1" stroke="#d83a00" stroke-width="1.8" stroke-linecap="butt"/>
<line x1="453.57" y1="231.74" x2="452.03" y2="221.86" stroke="#1e1e1e" stroke-width="2.5" stroke-linecap="butt"/>
<line x1="454.07" y1="232.24" x2="452.53" y2="222.36" stroke="#2aa4ee" stroke-width="1.3" stroke-linecap="butt"/>
<line x1="473.57" y1="228.64" x2="472.03" y2="218.76" stroke="#1e1e1e" stroke-width="2.5" stroke-linecap="butt"/>
<line x1="474.07" y1="229.14" x2="472.53" y2="219.26" stroke="#2aa4ee" stroke-width="1.3" stroke-linecap="butt"/>
<line x1="52.6" y1="233.9" x2="63.3" y2="228.9" stroke="#1e1e1e" stroke-width="2.9" stroke-linecap="butt"/>
<line x1="53.05" y1="234.35" x2="63.75" y2="229.35" stroke="#2aa4ee" stroke-width="1.9" stroke-linecap="butt"/>
<line x1="80.7" y1="219.1" x2="90.4" y2="212.6" stroke="#1e1e1e" stroke-width="2.9" stroke-linecap="butt"/>
<line x1="81.15" y1="219.55" x2="90.85" y2="213.05" stroke="#2aa4ee" stroke-width="1.9" stroke-linecap="butt"/>
<line x1="63.3" y1="228.9" x2="80.7" y2="219.1" stroke="#1e1e1e" stroke-width="3.0" stroke-linecap="butt"/>
<line x1="63.7" y1="229.3" x2="69.96" y2="225.77" stroke="#d83a00" stroke-width="1.8" stroke-linecap="butt"/>
<line x1="70.66" y1="225.38" x2="74.14" y2="223.42" stroke="#f2e6e2" stroke-width="1.8" stroke-linecap="butt"/>
<line x1="74.84" y1="223.03" x2="81.1" y2="219.5" stroke="#d83a00" stroke-width="1.8" stroke-linecap="butt"/>
<line x1="65.75" y1="233.26" x2="60.85" y2="224.54" stroke="#1e1e1e" stroke-width="2.5" stroke-linecap="butt"/>
<line x1="66.25" y1="233.76" x2="61.35" y2="225.04" stroke="#2aa4ee" stroke-width="1.3" stroke-linecap="butt"/>
<line x1="83.15" y1="223.46" x2="78.25" y2="214.74" stroke="#1e1e1e" stroke-width="2.5" stroke-linecap="butt"/>
<line x1="83.65" y1="223.96" x2="78.75" y2="215.24" stroke="#2aa4ee" stroke-width="1.3" stroke-linecap="butt"/>
<line x1="308.6" y1="372.3" x2="313.5" y2="340.1" stroke="#2a2f35" stroke-width="5.0" stroke-linecap="butt"/>
<line x1="308.6" y1="372.3" x2="313.5" y2="340.1" stroke="#22a9ff" stroke-width="3.2" stroke-linecap="butt"/>
<line x1="308.6" y1="372.3" x2="313.5" y2="340.1" stroke="#f0f4f8" stroke-width="1.5" stroke-dasharray="3 2.2"/>
<rect x="305" y="368.7" width="7.2" height="7.2" fill="#22a9ff" stroke="#1e2a36" stroke-width="0.9" transform="rotate(8.65 308.6 372.3)"/>
<rect x="309.9" y="336.5" width="7.2" height="7.2" fill="#22a9ff" stroke="#1e2a36" stroke-width="0.9" transform="rotate(8.65 313.5 340.1)"/>
<line x1="443.4" y1="349.7" x2="554.7" y2="321.8" stroke="#8a9098" stroke-width="0.9"/>
<circle cx="443.4" cy="349.7" r="2.1" fill="#d02000" stroke="#b01a00" stroke-width="0.4"/>
<circle cx="453.52" cy="347.16" r="1.75" fill="#2a92dc" stroke="#2a3038" stroke-width="1.15"/>
<circle cx="463.64" cy="344.63" r="2.1" fill="#d02000" stroke="#b01a00" stroke-width="0.4"/>
<circle cx="473.75" cy="342.09" r="1.75" fill="#2a92dc" stroke="#2a3038" stroke-width="1.15"/>
<circle cx="483.87" cy="339.55" r="2.1" fill="#d02000" stroke="#b01a00" stroke-width="0.4"/>
<circle cx="493.99" cy="337.02" r="1.75" fill="#2a92dc" stroke="#2a3038" stroke-width="1.15"/>
<circle cx="504.11" cy="334.48" r="2.1" fill="#d02000" stroke="#b01a00" stroke-width="0.4"/>
<circle cx="514.23" cy="331.95" r="1.75" fill="#2a92dc" stroke="#2a3038" stroke-width="1.15"/>
<circle cx="524.35" cy="329.41" r="2.1" fill="#d02000" stroke="#b01a00" stroke-width="0.4"/>
<circle cx="534.46" cy="326.87" r="1.75" fill="#2a92dc" stroke="#2a3038" stroke-width="1.15"/>
<circle cx="544.58" cy="324.34" r="2.1" fill="#d02000" stroke="#b01a00" stroke-width="0.4"/>
<circle cx="554.7" cy="321.8" r="1.75" fill="#2a92dc" stroke="#2a3038" stroke-width="1.15"/>
<rect x="87.55" y="395.9" width="14.0" height="9.6" fill="#ffffff" stroke="#2c2c2c" stroke-width="1.2"/>
<text x="94.75" y="404.2" text-anchor="middle" class="n">1</text>
<rect x="218.35" y="436.75" width="14.0" height="9.6" fill="#ffffff" stroke="#2c2c2c" stroke-width="1.2"/>
<text x="225.55" y="445.05" text-anchor="middle" class="n">2</text>
<rect x="290.1" y="371.6" width="14.0" height="9.6" fill="#ffffff" stroke="#2c2c2c" stroke-width="1.2"/>
<text x="297.3" y="379.9" text-anchor="middle" class="n">3</text>
<rect x="444.4" y="354.8" width="14.0" height="9.6" fill="#ffffff" stroke="#2c2c2c" stroke-width="1.2"/>
<text x="451.6" y="363.1" text-anchor="middle" class="n">4</text>
<rect x="530.85" y="417.7" width="14.0" height="9.6" fill="#ffffff" stroke="#2c2c2c" stroke-width="1.2"/>
<text x="538.05" y="426" text-anchor="middle" class="n">5</text>
<rect x="630.1" y="335.15" width="14.0" height="9.6" fill="#ffffff" stroke="#2c2c2c" stroke-width="1.2"/>
<text x="637.3" y="343.45" text-anchor="middle" class="n">6</text>
<rect x="650.85" y="128.2" width="14.0" height="9.6" fill="#ffffff" stroke="#2c2c2c" stroke-width="1.2"/>
<text x="658.05" y="136.5" text-anchor="middle" class="n">7</text>
<rect x="514.5" y="140.5" width="14.0" height="9.6" fill="#ffffff" stroke="#2c2c2c" stroke-width="1.2"/>
<text x="521.7" y="148.8" text-anchor="middle" class="n">8</text>
<rect x="424.6" y="84.55" width="14.0" height="9.6" fill="#ffffff" stroke="#2c2c2c" stroke-width="1.2"/>
<text x="431.8" y="92.85" text-anchor="middle" class="n">9</text>
<rect x="297" y="72.4" width="14.0" height="9.6" fill="#ffffff" stroke="#2c2c2c" stroke-width="1.2"/>
<text x="304.2" y="80.7" text-anchor="middle" class="n" textLength="9.6" lengthAdjust="spacingAndGlyphs">10</text>
<rect x="156.15" y="67.3" width="14.0" height="9.6" fill="#ffffff" stroke="#2c2c2c" stroke-width="1.2"/>
<text x="163.35" y="75.6" text-anchor="middle" class="n" textLength="9.6" lengthAdjust="spacingAndGlyphs">11</text>
<rect x="279.5" y="155.95" width="14.0" height="9.6" fill="#ffffff" stroke="#2c2c2c" stroke-width="1.2"/>
<text x="286.7" y="164.25" text-anchor="middle" class="n" textLength="9.6" lengthAdjust="spacingAndGlyphs">12</text>
<rect x="436.3" y="216.6" width="14.0" height="9.6" fill="#ffffff" stroke="#2c2c2c" stroke-width="1.2"/>
<text x="443.5" y="224.9" text-anchor="middle" class="n" textLength="9.6" lengthAdjust="spacingAndGlyphs">13</text>
<rect x="336.15" y="273.75" width="14.0" height="9.6" fill="#ffffff" stroke="#2c2c2c" stroke-width="1.2"/>
<text x="343.35" y="282.05" text-anchor="middle" class="n" textLength="9.6" lengthAdjust="spacingAndGlyphs">14</text>
<rect x="85.5" y="218.55" width="14.0" height="9.6" fill="#ffffff" stroke="#2c2c2c" stroke-width="1.2"/>
<text x="92.7" y="226.85" text-anchor="middle" class="n" textLength="9.6" lengthAdjust="spacingAndGlyphs">15</text>
<text class="ft" x="26.2" y="578.8" textLength="85" lengthAdjust="spacingAndGlyphs">A1 - L(J)M 07.07.2018</text>
<text class="ft" x="132.1" y="578.8" textLength="39.6" lengthAdjust="spacingAndGlyphs">Offenbach</text>
<text class="ft" x="26.2" y="590.8" textLength="143" lengthAdjust="spacingAndGlyphs">Autor : Norbert Besser (nachgebaut)</text>
<text class="ft" x="564.4" y="578.8" textLength="78.7" lengthAdjust="spacingAndGlyphs">Länge : 15.41 Meter</text>
<text class="ft" x="564.4" y="590.8" textLength="88" lengthAdjust="spacingAndGlyphs">www.AgilityMaps.com</text>
</svg>
</body></html>
